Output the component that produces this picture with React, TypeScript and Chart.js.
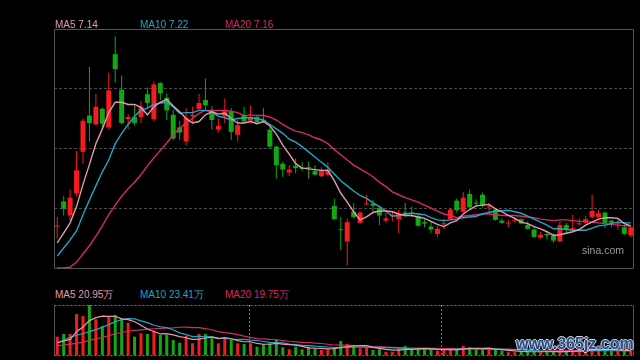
import React, { useEffect, useRef } from "react";
import { Chart, registerables } from "chart.js";

Chart.register(...registerables);

// ---------- data (prices in CNY, volumes in 万股) ----------
const opens = [7.16,7.50,7.31,7.61,8.17,8.66,8.54,8.75,8.50,9.49, 9.01,8.61,8.64,8.64,8.95,8.61,9.10,8.90,8.67,8.50, 8.31,8.65,8.75,8.87,8.73,8.47,8.65,8.72,8.40,8.67, 8.59,8.64,8.60,8.47,8.24,8.01,7.89,7.98,7.96,7.96, 7.91,7.84,7.86,7.44,7.12,6.96,7.36,7.21,7.46,7.47, 7.41,7.24,7.30,7.26,7.35,7.35,7.30,7.22,7.16,7.06, 7.19,7.26,7.51,7.36,7.60,7.48,7.59,7.42,7.39,7.24, 7.20,7.24,7.26,7.18,7.12,7.01,7.06,7.04,6.96,7.18, 7.12,7.19,7.21,7.29,7.29,7.35,7.24,7.19,7.15,7.04];
const highs = [7.29,7.57,7.66,8.18,8.62,9.32,8.95,8.77,9.24,9.73, 9.20,8.68,8.80,8.86,9.04,9.12,9.11,8.96,8.74,8.59, 8.76,8.78,8.95,9.16,8.79,8.62,8.89,8.76,8.60,8.78, 8.79,8.67,8.76,8.51,8.25,8.04,7.99,8.08,8.03,8.04, 7.99,7.96,8.03,7.54,7.29,7.27,7.48,7.36,7.59,7.52, 7.43,7.35,7.36,7.39,7.48,7.43,7.34,7.26,7.23,7.17, 7.27,7.40,7.54,7.63,7.66,7.53,7.62,7.48,7.40,7.27, 7.25,7.29,7.27,7.23,7.16,7.09,7.09,7.07,7.23,7.21, 7.32,7.27,7.30,7.59,7.39,7.36,7.25,7.26,7.17,7.16];
const lows = [7.00,7.31,7.24,7.57,8.01,8.31,8.53,8.49,8.47,9.11, 8.54,8.48,8.53,8.56,8.76,8.58,8.87,8.60,8.33,8.33, 8.26,8.57,8.74,8.74,8.47,8.43,8.56,8.33,8.31,8.56, 8.56,8.55,8.56,8.22,7.81,7.83,7.84,7.88,7.91,7.81, 7.85,7.83,7.84,7.25,6.84,6.63,7.27,7.20,7.45,7.36, 7.18,7.21,7.23,7.07,7.29,7.29,7.16,7.15,7.07,7.02, 7.12,7.25,7.35,7.35,7.41,7.43,7.42,7.36,7.24,7.20, 7.15,7.21,7.19,7.12,7.01,7.00,6.99,6.94,6.95,7.07, 7.11,7.18,7.20,7.27,7.27,7.14,7.15,7.12,7.05,7.02];
const closes = [7.17,7.40,7.55,7.92,8.59,8.56,8.78,8.55,9.00,9.29, 8.56,8.64,8.56,8.78,8.83,9.08,8.96,8.73,8.35,8.43, 8.63,8.67,8.83,8.80,8.60,8.52,8.72,8.44,8.53,8.58, 8.64,8.57,8.59,8.24,7.99,7.93,7.93,7.95,7.94,7.95, 7.86,7.91,7.93,7.26,7.11,7.22,7.29,7.35,7.47,7.44, 7.31,7.27,7.31,7.33,7.33,7.33,7.17,7.20,7.12,7.13, 7.20,7.39,7.38,7.55,7.42,7.47,7.44,7.43,7.25,7.21, 7.21,7.25,7.20,7.13,7.02,7.05,7.04,6.97,7.18,7.12, 7.14,7.20,7.26,7.37,7.34,7.21,7.21,7.20,7.06,7.15];

const ma5 = [6.94,7.07,7.21,7.43,7.73,8.00,8.28,8.48,8.70,8.84, 8.84,8.81,8.81,8.77,8.67,8.78,8.84,8.88,8.79,8.71, 8.62,8.56,8.58,8.67,8.71,8.68,8.69,8.62,8.56,8.56, 8.58,8.55,8.58,8.52,8.41,8.26,8.14,8.01,7.95,7.94, 7.93,7.92,7.92,7.78,7.61,7.49,7.36,7.25,7.29,7.35, 7.37,7.37,7.36,7.33,7.31,7.31,7.29,7.27,7.23,7.19, 7.16,7.21,7.24,7.33,7.39,7.44,7.45,7.46,7.40,7.36, 7.31,7.27,7.22,7.20,7.16,7.13,7.09,7.04,7.05,7.07, 7.09,7.12,7.18,7.22,7.26,7.28,7.28,7.27,7.20,7.17];
const ma10 = [6.76,6.87,6.98,7.10,7.32,7.52,7.71,7.90,8.06,8.28, 8.42,8.54,8.65,8.73,8.76,8.81,8.83,8.84,8.78,8.69, 8.70,8.70,8.73,8.73,8.71,8.65,8.63,8.60,8.62,8.63, 8.63,8.62,8.60,8.54,8.48,8.42,8.34,8.30,8.24,8.17, 8.10,8.03,7.96,7.87,7.78,7.71,7.64,7.58,7.54,7.48, 7.43,7.37,7.30,7.31,7.33,7.34,7.33,7.32,7.28,7.25, 7.24,7.25,7.26,7.28,7.29,7.30,7.33,7.35,7.37,7.37, 7.38,7.36,7.34,7.30,7.26,7.22,7.18,7.13,7.13,7.12, 7.11,7.11,7.11,7.14,7.17,7.18,7.20,7.22,7.21,7.21];
const ma20 = [6.60,6.60,6.61,6.68,6.79,6.90,7.03,7.17,7.32,7.45, 7.57,7.67,7.76,7.86,7.98,8.09,8.19,8.29,8.40,8.49, 8.56,8.62,8.69,8.73,8.73,8.73,8.73,8.72,8.70,8.66, 8.67,8.66,8.66,8.64,8.60,8.54,8.49,8.45,8.43,8.40, 8.36,8.33,8.28,8.20,8.13,8.06,7.99,7.94,7.89,7.83, 7.76,7.70,7.63,7.59,7.55,7.52,7.49,7.45,7.41,7.37, 7.33,7.31,7.28,7.30,7.31,7.32,7.33,7.33,7.32,7.31, 7.31,7.31,7.30,7.29,7.28,7.26,7.25,7.24,7.25,7.25, 7.24,7.23,7.23,7.22,7.21,7.20,7.19,7.18,7.17,7.17];

const volumes = [87.8,100.8,100.8,196.8,187.2,240,171.4,139.2,187.2,192, 176.2,155,87.8,104.2,100.8,116.6,96,96,72,59, 91.2,56.2,100.8,100.8,80.2,56.2,80.2,72,56.2,52.8, 56.2,39.8,52.8,56.2,75.4,37,27.4,39.8,27.4,39.8, 28.8,24,27.4,32.2,67.2,52.8,39.8,32.2,35,24, 27.4,15.8,15.8,32.2,43.2,27.4,28.8,28.8,27.4,20.6, 24,27.4,24,44.6,37,27.4,27.4,27.4,24,20.6, 13.5,13.5,16.3,17.6,17.6,13.5,13.5,17.6,20.4,17.6, 20.7,20.7,25.1,35.8,27.0,25.3,19.1,19.1,19.1,22.2];
const volMa5 = [59,67,75,112,134.7,165.1,179.2,186.9,185,186, 173.2,169.9,159.6,143,124.8,112.9,101.1,102.7,96.3,87.9, 82.8,74.9,75.8,81.6,85.8,78.8,83.6,77.9,69,63.5, 63.5,55.4,51.6,51.6,56.1,52.2,49.8,47.2,41.4,34.3, 32.6,32,29.5,30.4,35.9,40.7,43.9,44.8,45.4,36.8, 31.7,26.9,23.6,23,26.9,26.9,29.5,32.1,31.1,26.6, 25.9,25.6,24.7,28.1,31.4,32.1,32.1,32.8,28.6,25.4, 22.6,19.8,17.6,16.3,15.7,15.7,15.7,16,16.5,16.5, 18,19.4,20.9,24,25.9,26.8,26.5,25.3,21.9,20.95];
const volMa10 = [59,70,85,95,103,112,122,133,146,160.3, 169.2,174.6,173.3,164,155.4,143,135.5,131.2,119.7,106.4, 97.9,88,89.3,88.9,86.9,80.8,79.3,76.9,75.3,74.7, 71.2,69.5,64.7,60.3,59.8,57.9,52.6,49.4,46.5,45.2, 42.4,40.9,38.3,35.9,35.1,36.7,37.9,37.2,37.9,36.3, 36.2,35.4,34.2,34.2,31.8,29.3,28.2,27.8,27.1,26.7, 26.4,27.6,28.4,29.6,29,29,28.9,28.7,28.4,28.4, 27.3,25.9,25.2,22.5,20.5,19.1,17.8,16.8,16.4,16.1, 16.8,17.6,18.4,20.3,21.2,22.4,22.9,23.1,23,23.41];
const volMa20 = [45,48,52,56,62,70,77,85,93,102, 108,114,118,121,124,126,128,129,130,133.3, 133.5,131.3,131.3,126.5,121.1,111.9,107.4,104,97.5,90.5, 84.5,78.8,77,74.6,73.3,69.4,65.9,63.1,60.9,59.9, 56.8,55.2,51.5,48.1,47.4,47.3,45.3,43.3,42.2,40.8, 39.3,38.1,36.3,35.1,33.5,33,33.1,32.5,32.5,31.5, 31.3,31.5,31.3,31.9,30.4,29.1,28.5,28.3,27.7,27.6, 26.9,26.8,26.8,26,24.8,24.1,23.3,22.7,22.4,22.2, 22.1,21.7,21.8,21.4,20.9,20.8,20.3,19.9,19.7,19.75];

const dayLabels = closes.map((_, i) => `D${i + 1}`);
const priceLegend = [
  { name: "MA5", value: "7.14" },
  { name: "MA10", value: "7.22" },
  { name: "MA20", value: "7.16" },
];
const volumeLegend = [
  { name: "MA5", value: "20.95万" },
  { name: "MA10", value: "23.41万" },
  { name: "MA20", value: "19.75万" },
];
const PRICE_MIN = 6.6;
const PRICE_MAX = 9.83;
const VOL_MAX = 240;
const VOL_MARKS = [29.76, 59.56];

// ---------- styles ----------
const RED = "#f51c1c";
const GREEN = "#13a713";
const C_MA5 = "#e39aae";
const C_MA10 = "#22a5c4";
const C_MA20 = "#d42a66";
const LEG_X = [55, 140, 225];
const FONT = '"Liberation Sans", Arial, sans-serif';

const framePlugin = {
  id: "panelFrame",
  beforeDatasetsDraw(chart: any, _args: any, opts: any) {
    const { ctx, chartArea: a } = chart;
    const l = Math.round(a.left) + 0.5;
    const r = Math.round(a.right) - 0.5;
    const t = Math.round(a.top) + 0.5;
    const b = Math.round(a.bottom) + 0.5;
    ctx.save();
    ctx.lineWidth = 1;
    ctx.strokeStyle = opts.sideColor;
    ctx.setLineDash([]);
    ctx.beginPath();
    ctx.moveTo(l, t);
    ctx.lineTo(l, b);
    ctx.moveTo(r, t);
    ctx.lineTo(r, b);
    ctx.stroke();
    ctx.strokeStyle = opts.hColor;
    ctx.setLineDash(opts.hDash || []);
    ctx.beginPath();
    ctx.moveTo(l, t);
    ctx.lineTo(r, t);
    ctx.moveTo(l, b);
    ctx.lineTo(r, b);
    ctx.stroke();
    ctx.restore();
  },
};

const candleColors = closes.map((c, i) => (c >= opens[i] ? RED : GREEN));

function lineDs(label: string, data: number[], color: string, width: number) {
  return {
    type: "line" as const,
    label,
    data,
    borderColor: color,
    backgroundColor: color,
    borderWidth: width,
    pointRadius: 0,
    tension: 0,
    fill: false,
    order: 0,
  };
}

export default function App() {
  const priceRef = useRef<HTMLCanvasElement>(null);
  const volRef = useRef<HTMLCanvasElement>(null);

  useEffect(() => {
    document.body.style.margin = "0";
    document.body.style.background = "#000";
    if (!priceRef.current || !volRef.current) return;

    const priceChart = new Chart(priceRef.current, {
      type: "bar",
      data: {
        labels: dayLabels,
        datasets: [
          {
            type: "bar",
            label: "wick",
            data: highs.map((h, i) => [lows[i], h]),
            backgroundColor: candleColors,
            barThickness: 1,
            grouped: false,
            borderWidth: 0,
            inflateAmount: 0,
            order: 2,
          } as any,
          {
            type: "bar",
            label: "body",
            data: opens.map((o, i) => [o, closes[i]]),
            backgroundColor: candleColors,
            barThickness: 5,
            minBarLength: 1,
            grouped: false,
            borderWidth: 0,
            inflateAmount: 0,
            order: 1,
          } as any,
          lineDs("MA5", ma5, C_MA5, 1.4),
          lineDs("MA10", ma10, C_MA10, 1.4),
          lineDs("MA20", ma20, C_MA20, 1.4),
        ],
      },
      options: {
        animation: false,
        responsive: false,
        events: [],
        layout: { padding: { left: 4, right: 6, top: 4, bottom: 7 } },
        plugins: {
          legend: { display: false },
          tooltip: { enabled: false },
          panelFrame: { sideColor: "#555", hColor: "#555", hDash: [] },
        } as any,
        scales: {
          x: { type: "category", display: false, offset: true },
          y: {
            type: "linear",
            min: PRICE_MIN,
            max: PRICE_MAX,
            display: true,
            ticks: { display: false },
            grid: { color: "#4a4a4a", drawTicks: false, lineWidth: 1 },
            border: { display: false, dash: [3, 2] },
            afterBuildTicks: (scale: any) => {
              const step = (PRICE_MAX - PRICE_MIN) / 4;
              scale.ticks = [1, 2, 3].map((k) => ({ value: PRICE_MIN + k * step }));
            },
          },
        },
      },
      plugins: [framePlugin],
    } as any);

    const volChart = new Chart(volRef.current, {
      type: "bar",
      data: {
        labels: dayLabels,
        datasets: [
          {
            type: "bar",
            label: "volume",
            data: volumes,
            backgroundColor: candleColors,
            barThickness: 3,
            borderWidth: 0,
            inflateAmount: 0,
            order: 1,
          } as any,
          lineDs("MA5", volMa5, C_MA5, 1.2),
          lineDs("MA10", volMa10, C_MA10, 1.2),
          lineDs("MA20", volMa20, C_MA20, 1.2),
        ],
      },
      options: {
        animation: false,
        responsive: false,
        events: [],
        layout: { padding: { left: 4, right: 6, top: 5, bottom: 5 } },
        plugins: {
          legend: { display: false },
          tooltip: { enabled: false },
          panelFrame: { sideColor: "#555", hColor: "#7a7a7a", hDash: [2, 2] },
        } as any,
        scales: {
          x: { type: "category", display: false, offset: true },
          xg: {
            type: "linear",
            position: "bottom",
            min: -0.5,
            max: closes.length - 0.5,
            offset: false,
            display: true,
            ticks: { display: false },
            grid: { color: "#7a7a7a", drawTicks: false, lineWidth: 1, offset: false },
            border: { display: false, dash: [2, 2] },
            afterBuildTicks: (scale: any) => {
              scale.ticks = VOL_MARKS.map((v) => ({ value: v }));
            },
          },
          y: { type: "linear", min: 0, max: VOL_MAX, display: false },
        },
      },
      plugins: [framePlugin],
    } as any);

    return () => {
      priceChart.destroy();
      volChart.destroy();
    };
  }, []);

  const legendColors = [C_MA5, C_MA10, C_MA20];
  const textBase: React.CSSProperties = {
    position: "absolute",
    fontFamily: FONT,
    whiteSpace: "nowrap",
  };

  return (
    <div
      style={{
        position: "fixed",
        left: 0,
        top: 0,
        width: 640,
        height: 360,
        background: "#000",
        overflow: "hidden",
      }}
    >
      <canvas
        ref={priceRef}
        width={590}
        height={250}
        style={{ position: "absolute", left: 50, top: 25, display: "block" }}
      />
      <canvas
        ref={volRef}
        width={590}
        height={60}
        style={{ position: "absolute", left: 50, top: 300, display: "block" }}
      />
      {priceLegend.map((it, i) => (
        <span
          key={"p" + i}
          style={{ ...textBase, left: LEG_X[i], top: 19.5, fontSize: 10, lineHeight: "10px", color: legendColors[i] }}
        >
          {it.name} {it.value}
        </span>
      ))}
      {volumeLegend.map((it, i) => (
        <span
          key={"v" + i}
          style={{ ...textBase, left: LEG_X[i], top: 290, fontSize: 10, lineHeight: "10px", color: legendColors[i] }}
        >
          {it.name} {it.value}
        </span>
      ))}
      <span
        style={{ ...textBase, left: 582, top: 244.5, fontSize: 10.5, lineHeight: "10.5px", color: "#9a9a9a" }}
      >
        sina.com
      </span>
      <span
        style={{
          ...textBase,
          left: 516,
          top: 336,
          fontSize: 16,
          lineHeight: "16px",
          fontWeight: "bold",
          color: "#24508c",
          textShadow: "1px 0 0 #c9ced6, -1px 0 0 #c9ced6, 0 1px 0 #c9ced6, 0 -1px 0 #c9ced6",
        }}
      >
        www.365jz.com
      </span>
    </div>
  );
}
